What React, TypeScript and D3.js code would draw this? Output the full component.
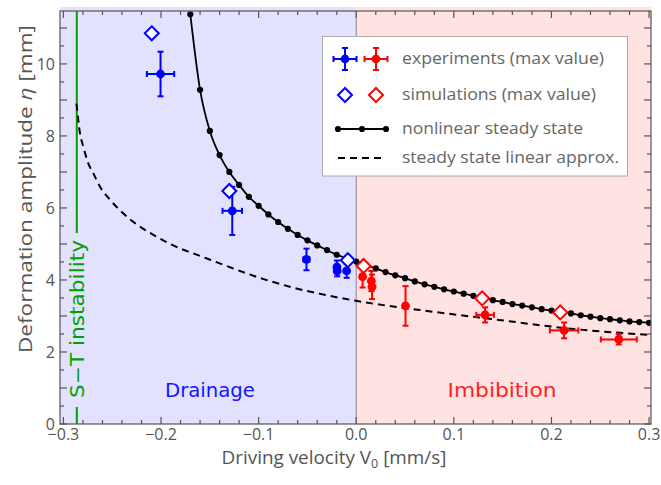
import React from 'react'
import * as d3 from 'd3'

// nonlinear steady state (dots every 0.01 mm/s)
const steadyV = [
  -0.17, -0.16, -0.15, -0.14, -0.13, -0.12, -0.11, -0.1, -0.09, -0.08, -0.07, -0.06,
  -0.05, -0.04, -0.03, -0.02, -0.01, 0.0, 0.01, 0.02, 0.03, 0.04, 0.05, 0.06, 0.07,
  0.08, 0.09, 0.1, 0.11, 0.12, 0.13, 0.14, 0.15, 0.16, 0.17, 0.18, 0.19, 0.2, 0.21,
  0.22, 0.23, 0.24, 0.25, 0.26, 0.27, 0.28, 0.29, 0.3,
]
const steadyEta = [
  11.38, 9.28, 8.14, 7.47, 7.0, 6.64, 6.31, 6.06, 5.82, 5.61, 5.42, 5.25,
  5.1, 4.96, 4.83, 4.7, 4.6, 4.51, 4.42, 4.32, 4.22, 4.13, 4.05, 3.96, 3.88,
  3.81, 3.74, 3.68, 3.62, 3.56, 3.5, 3.44, 3.39, 3.33, 3.29, 3.24, 3.19, 3.15, 3.11,
  3.07, 3.02, 2.98, 2.94, 2.91, 2.88, 2.85, 2.83, 2.81,
]

// steady state linear approximation (dashed)
const linearV = [
  -0.2866, -0.283, -0.2796, -0.2745, -0.2693, -0.2625, -0.252, -0.235, -0.2045, -0.181,
  -0.167, -0.133, -0.099, -0.065, -0.031, 0.0, 0.078, 0.146, 0.215, 0.302,
]
const linearEta = [
  8.9, 8.07, 7.7, 7.24, 6.96, 6.59, 6.22, 5.76, 5.2, 4.88,
  4.74, 4.39, 4.06, 3.79, 3.58, 3.42, 3.12, 2.89, 2.66, 2.47,
]

// experiments (max value): V0, eta, x error, y error
const drainExpV = [-0.2005, -0.127, -0.051, -0.0198, -0.0195, -0.0098]
const drainExpEta = [9.72, 5.92, 4.57, 4.36, 4.25, 4.25]
const drainExpDx = [0.014, 0.01, 0.003, 0.002, 0.002, 0.002]
const drainExpDy = [0.62, 0.67, 0.3, 0.18, 0.15, 0.19]

const imbExpV = [0.0065, 0.0155, 0.0162, 0.0505, 0.132, 0.213, 0.269]
const imbExpEta = [4.09, 3.97, 3.81, 3.28, 3.03, 2.6, 2.35]
const imbExpDx = [0.002, 0.002, 0.002, 0.002, 0.009, 0.0146, 0.0184]
const imbExpDy = [0.3, 0.28, 0.34, 0.55, 0.21, 0.22, 0.14]

// simulations (max value)
const drainSimV = [-0.2095, -0.13, -0.0086]
const drainSimEta = [10.85, 6.47, 4.55]
const imbSimV = [0.0075, 0.129, 0.209]
const imbSimEta = [4.39, 3.49, 3.1]

const stV = -0.2863 // S-T instability threshold

const xTickLabels = [-0.3, -0.2, -0.1, 0, 0.1, 0.2, 0.3]
const yTickLabels = [0, 2, 4, 6, 8, 10]

const BLUE = '#0000ff'
const RED = '#ff0000'
const GREEN = '#00a000'
const AXIS = '#555'
const FONT = '"Open Sans", "Noto Sans", sans-serif'
const COMIC = '"Comic Sans MS", "DejaVu Sans", sans-serif'

const W = 661
const H = 485
const left = 60
const right = 651
const top = 11
const bottom = 424

const ErrPoint = ({ cx, cy, x0, x1, y0, y1, color, r = 4.4 }) => (
  <g stroke={color} strokeWidth={2} fill={color}>
    <line x1={x0} x2={x1} y1={cy} y2={cy} />
    <line x1={cx} x2={cx} y1={y0} y2={y1} />
    <line x1={x0} x2={x0} y1={cy - 3} y2={cy + 3} />
    <line x1={x1} x2={x1} y1={cy - 3} y2={cy + 3} />
    <line x1={cx - 3} x2={cx + 3} y1={y0} y2={y0} />
    <line x1={cx - 3} x2={cx + 3} y1={y1} y2={y1} />
    <circle cx={cx} cy={cy} r={r} stroke='none' />
  </g>
)

const Diamond = ({ cx, cy, color, s = 7 }) => (
  <path
    d={`M${cx},${cy - s}L${cx + s},${cy}L${cx},${cy + s}L${cx - s},${cy}Z`}
    fill='#fff'
    stroke={color}
    strokeWidth={2}
  />
)

const App = () => {
  const x = d3.scaleLinear().domain([-0.3035, 0.302]).range([left, right])
  const y = d3.scaleLinear().domain([0, 11.47]).range([bottom, top])

  const steady = steadyV.map((v, i) => [v, steadyEta[i]])
  const linear = linearV.map((v, i) => [v, linearEta[i]])

  const steadyLine = d3.line().x(d => x(d[0])).y(d => y(d[1])).curve(d3.curveMonotoneX)
  const linearLine = d3.line().x(d => x(d[0])).y(d => y(d[1])).curve(d3.curveMonotoneX)

  const xMinor = x.ticks(30)
  const yMinor = y.ticks(23)
  const fmt = d3.format('.1f')

  const expPoints = (vs, etas, dxs, dys, color) =>
    vs.map((v, i) => (
      <ErrPoint
        key={color + i}
        cx={x(v)}
        cy={y(etas[i])}
        x0={x(v - dxs[i])}
        x1={x(v + dxs[i])}
        y0={y(etas[i] + dys[i])}
        y1={y(etas[i] - dys[i])}
        color={color}
      />
    ))

  const lx = 345
  const rows = [59, 95, 129, 158]
  const legendText = [
    ['experiments (max value)', 202],
    ['simulations (max value)', 194],
    ['nonlinear steady state', 181],
    ['steady state linear approx.', 217],
  ]

  return (
    <svg
      width={W}
      height={H}
      style={{ position: 'absolute', left: 0, top: 0, background: '#fff' }}
    >
      <defs>
        <clipPath id='plot'>
          <rect x={left} y={top} width={right - left} height={bottom - top} />
        </clipPath>
      </defs>

      {/* regions */}
      <rect x={left} y={7} width={x(0) - left} height={bottom - 7} fill='#e2e2ff' />
      <rect x={x(0)} y={7} width={right - x(0)} height={bottom - 7} fill='#ffe2e2' />
      <line x1={x(0)} x2={x(0)} y1={top} y2={bottom} stroke='#888' strokeWidth={1} />

      {/* S-T instability */}
      <g stroke={GREEN} strokeWidth={2}>
        <line x1={x(stV)} x2={x(stV)} y1={top} y2={233} />
        <line x1={x(stV)} x2={x(stV)} y1={407} y2={bottom} />
      </g>
      <text
        transform={`translate(${x(stV) + 7}, 319) rotate(-90)`}
        textAnchor='middle'
        fontFamily={COMIC}
        fontSize={19}
        fill={GREEN}
        textLength={158}
        lengthAdjust='spacingAndGlyphs'
      >
        S−T instability
      </text>

      <text x={210} y={397} textAnchor='middle' fontFamily={COMIC} fontSize={20} fill='#1515ff'
        textLength={90} lengthAdjust='spacingAndGlyphs'>
        Drainage
      </text>
      <text x={502} y={397} textAnchor='middle' fontFamily={COMIC} fontSize={20} fill='#ff1f1f'
        textLength={109} lengthAdjust='spacingAndGlyphs'>
        Imbibition
      </text>

      <g clipPath='url(#plot)'>
        <path d={linearLine(linear)} fill='none' stroke='#000' strokeWidth={2} strokeDasharray='7,5' />
        <path d={steadyLine(steady)} fill='none' stroke='#000' strokeWidth={1.8} />
        {steady.map((d, i) => (
          <circle key={i} cx={x(d[0])} cy={y(d[1])} r={3.1} fill='#000' />
        ))}
      </g>

      {expPoints(drainExpV, drainExpEta, drainExpDx, drainExpDy, BLUE)}
      {expPoints(imbExpV, imbExpEta, imbExpDx, imbExpDy, RED)}
      {drainSimV.map((v, i) => (
        <Diamond key={'bs' + i} cx={x(v)} cy={y(drainSimEta[i])} color={BLUE} />
      ))}
      {imbSimV.map((v, i) => (
        <Diamond key={'rs' + i} cx={x(v)} cy={y(imbSimEta[i])} color={RED} />
      ))}

      {/* frame and ticks */}
      <g stroke={AXIS} strokeWidth={1.2} fill='none'>
        <rect x={left} y={top} width={right - left} height={bottom - top} />
        {xMinor.map((t, i) => {
          const major = xTickLabels.some(m => Math.abs(m - t) < 1e-6)
          const len = major ? 7 : 4
          return (
            <g key={'xt' + i}>
              <line x1={x(t)} x2={x(t)} y1={bottom} y2={bottom - len} />
              <line x1={x(t)} x2={x(t)} y1={top} y2={top + len} />
            </g>
          )
        })}
        {yMinor.map((t, i) => {
          const major = Number.isInteger(t)
          const len = major ? 7 : 4
          return (
            <g key={'yt' + i}>
              <line x1={left} x2={left + len} y1={y(t)} y2={y(t)} />
              <line x1={right} x2={right - len} y1={y(t)} y2={y(t)} />
            </g>
          )
        })}
      </g>

      {/* tick labels */}
      <g fontFamily={FONT} fontSize={16} fill={AXIS}>
        {xTickLabels.map(t => (
          <text key={'xl' + t} x={x(t)} y={440} textAnchor='middle'>
            {fmt(t)}
          </text>
        ))}
        {yTickLabels.map(t => (
          <text key={'yl' + t} x={55} y={y(t) + 6} textAnchor='end'>
            {t}
          </text>
        ))}
      </g>

      {/* axis titles */}
      <text x={334} y={464} textAnchor='middle' fontFamily={FONT} fontSize={18} fill={AXIS}
        textLength={225} lengthAdjust='spacingAndGlyphs'>
        Driving velocity V<tspan fontSize={12} dy={4}>0</tspan>
        <tspan dy={-4}> [mm/s]</tspan>
      </text>
      <text
        transform='translate(32, 189) rotate(-90)'
        textAnchor='middle'
        fontFamily={FONT}
        fontSize={19}
        fill={AXIS}
        textLength={328}
        lengthAdjust='spacingAndGlyphs'
      >
        Deformation amplitude <tspan fontStyle='italic'>η</tspan> [mm]
      </text>

      {/* legend */}
      <rect x={322.5} y={36.5} width={305} height={139.5} fill='#fff' stroke='#aaa' strokeWidth={1} />
      <ErrPoint cx={lx} cy={rows[0]} x0={lx - 11.5} x1={lx + 11.5} y0={rows[0] - 11} y1={rows[0] + 11} color={BLUE} />
      <ErrPoint cx={lx + 31} cy={rows[0]} x0={lx + 19.5} x1={lx + 42.5} y0={rows[0] - 11} y1={rows[0] + 11} color={RED} />
      <Diamond cx={lx} cy={rows[1]} color={BLUE} />
      <Diamond cx={lx + 31} cy={rows[1]} color={RED} />
      <line x1={338} x2={386} y1={rows[2]} y2={rows[2]} stroke='#000' strokeWidth={1.8} />
      {[338, 362, 386].map(cx => (
        <circle key={cx} cx={cx} cy={rows[2]} r={3.1} fill='#000' />
      ))}
      <line x1={338} x2={386} y1={rows[3]} y2={rows[3]} stroke='#000' strokeWidth={2} strokeDasharray='7,5' />
      <g fontFamily={FONT} fontSize={16} fill='#666'>
        {legendText.map(([t, w], i) => (
          <text key={t} x={402} y={rows[i] + 5} textLength={w} lengthAdjust='spacingAndGlyphs'>
            {t}
          </text>
        ))}
      </g>
    </svg>
  )
}

export default App
